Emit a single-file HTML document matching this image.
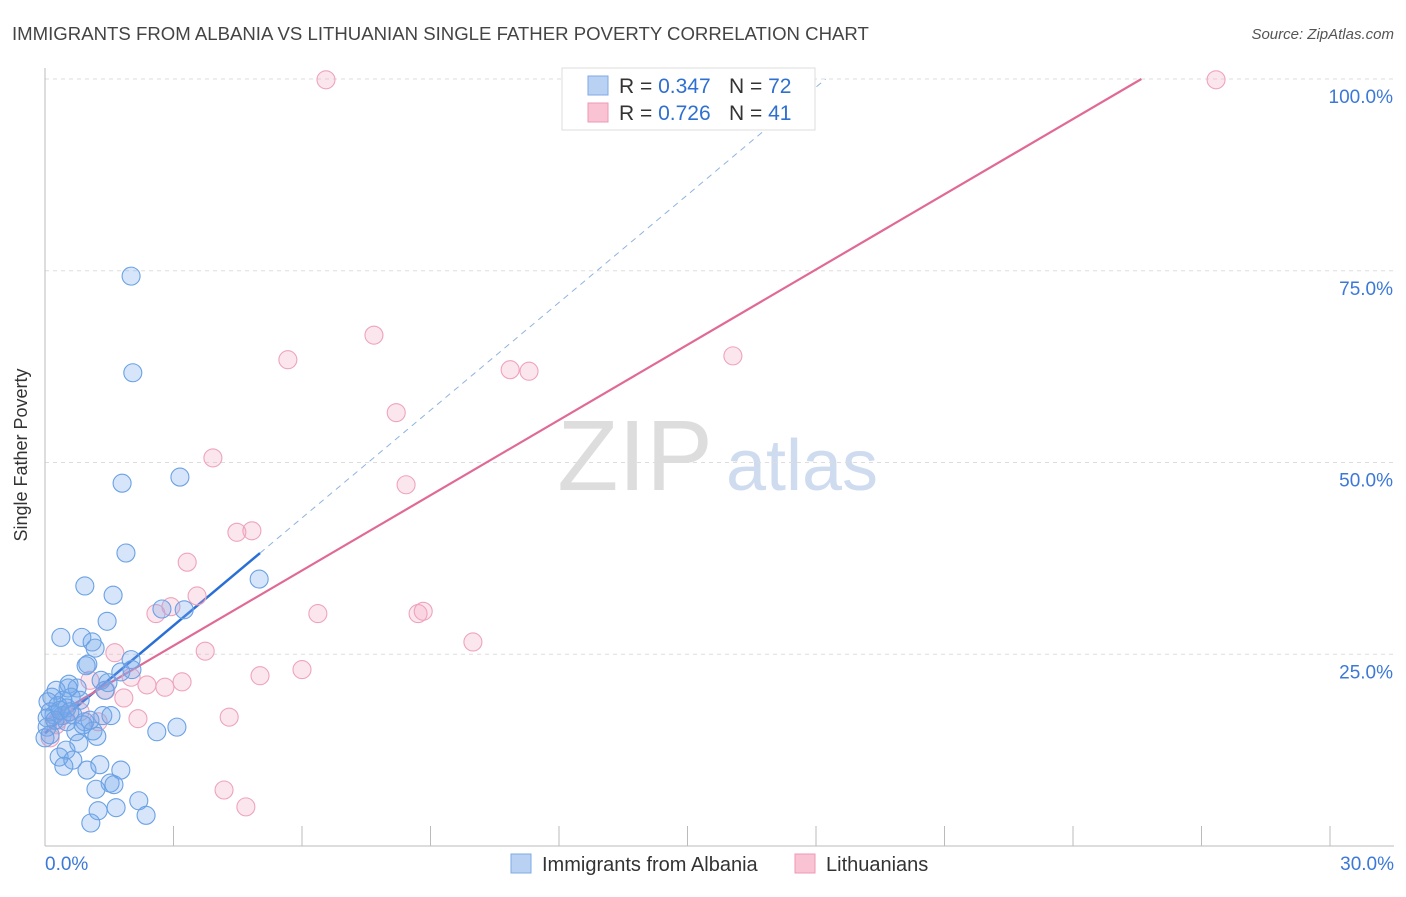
<!DOCTYPE html>
<html><head><meta charset="utf-8"><style>
body{margin:0;background:#fff;font-family:"Liberation Sans",sans-serif;}
svg text{font-family:"Liberation Sans",sans-serif;}
</style></head><body>
<svg id="chart" width="1406" height="892" xmlns="http://www.w3.org/2000/svg">
<text x="12" y="40" font-size="18.6" fill="#444">IMMIGRANTS FROM ALBANIA VS LITHUANIAN SINGLE FATHER POVERTY CORRELATION CHART</text>
<text x="1394" y="39" font-size="15" fill="#555" font-style="italic" text-anchor="end">Source: ZipAtlas.com</text>
<text x="635" y="490" font-size="100" fill="#ddd" font-family="Liberation Serif" text-anchor="middle">ZIP</text>
<text x="802" y="490" font-size="72" fill="#cfdcf0" text-anchor="middle">atlas</text>
<g id="grid"></g>
<g id="axes"></g>
<g id="lines"></g>
<g id="points"></g>
<text x="27" y="455" font-size="18" fill="#333" text-anchor="middle" transform="rotate(-90 27 455)">Single Father Poverty</text>
<g>
<rect x="562" y="68" width="253" height="62" fill="#fff" stroke="#ddd"/>
<rect x="588" y="76" width="20" height="19" fill="#b9d2f3" stroke="#7eaae6"/>
<rect x="588" y="103" width="20" height="19" fill="#f9c3d3" stroke="#ec9ab5"/>
<text x="619" y="93" font-size="21" fill="#333">R = <tspan fill="#2f6fd0">0.347</tspan></text>
<text x="729" y="93" font-size="21" fill="#333">N = <tspan fill="#2f6fd0">72</tspan></text>
<text x="619" y="120" font-size="21" fill="#333">R = <tspan fill="#2f6fd0">0.726</tspan></text>
<text x="729" y="120" font-size="21" fill="#333">N = <tspan fill="#2f6fd0">41</tspan></text>
</g>
<g>
<rect x="511" y="854" width="20" height="19" fill="#b9d2f3" stroke="#7eaae6"/>
<text x="542" y="871" font-size="20" fill="#333">Immigrants from Albania</text>
<rect x="795" y="854" width="20" height="19" fill="#f9c3d3" stroke="#ec9ab5"/>
<text x="826" y="871" font-size="20" fill="#333">Lithuanians</text>
</g>
</svg>
<script>
const xTicks=[0,3,6,9,12,15,18,21,24,27,30];
const yTicks=[25,50,75,100];
const yTickLabels=["25.0%","50.0%","75.0%","100.0%"];
const xEndLabels=["0.0%","30.0%"];
const albaniaX=[2.01,2.05,1.80,3.15,1.89,5.00,0.93,1.59,2.73,3.25,1.45,0.37,0.86,1.10,1.17,2.01,1.00,0.96,1.77,1.31,1.47,0.56,0.26,0.75,0.16,0.61,0.42,0.07,0.30,0.51,0.12,0.21,0.05,0.40,0.65,0.93,1.35,1.54,1.12,1.21,0.72,0.05,0.79,0.49,0.33,0.65,0.44,0.98,1.28,1.77,1.52,1.61,1.19,2.19,1.66,1.24,2.36,1.07,2.61,3.08,0.51,0.23,0.54,1.05,0.12,0.35,0.82,0.58,0.0,1.40,2.03,0.89];
const albaniaY=[74.3,61.7,47.3,48.1,38.2,34.8,33.9,32.7,30.9,30.8,29.3,27.2,27.2,26.6,25.8,24.3,23.7,23.5,22.7,21.6,21.3,21.1,20.3,20.6,19.4,19.4,19.0,18.8,18.3,18.0,17.5,17.1,16.7,17.0,17.1,16.2,17.0,17.0,15.0,14.3,14.9,15.5,13.4,12.5,11.6,11.2,10.4,9.9,10.6,9.9,8.2,8.0,7.4,5.9,5.0,4.6,4.0,3.0,14.9,15.5,16.2,16.4,20.6,16.4,14.5,17.7,19.0,17.5,14.1,20.3,23.0,15.8];
const lithX=[6.56,27.34,7.68,5.67,10.86,11.30,16.06,8.20,3.92,8.43,4.48,4.83,3.32,3.55,6.37,2.59,2.94,8.71,8.83,9.99,3.74,1.63,6.00,5.02,2.01,2.38,3.20,2.80,1.42,1.84,2.17,4.30,1.24,0.82,4.18,4.69,0.30,0.12,0.47,1.05,0.26];
const lithY=[99.9,99.9,66.6,63.4,62.1,61.9,63.9,56.5,50.6,47.1,40.9,41.1,37.0,32.6,30.3,30.3,31.2,30.3,30.6,26.6,25.4,25.2,23.0,22.2,22.0,21.0,21.4,20.7,20.3,19.3,16.6,16.8,16.2,17.5,7.3,5.1,16.4,14.1,17.1,21.6,15.8];
const blueTrend=[14.7,4.68];  // intercept, slope
const pinkTrend=[16.3,3.27];
const NS="http://www.w3.org/2000/svg";
const X0=45,X1=1330,Y0=846,Y100=79;
const sx=v=>X0+(X1-X0)*v/30;
const sy=v=>Y0-(Y0-Y100)*v/100;
function mk(tag,attrs,parent){const e=document.createElementNS(NS,tag);for(const k in attrs)e.setAttribute(k,attrs[k]);document.getElementById(parent).appendChild(e);return e;}
yTicks.forEach((t,i)=>{
  const g=mk('line',{x1:X0,x2:1394,y1:sy(t),y2:sy(t),stroke:'#ddd','stroke-dasharray':'4,4'},'grid');
  
  
  const l=mk('text',{x:1393,y:sy(t)+24,'font-size':19,fill:'#3b78d8','text-anchor':'end'},'axes');
  l.textContent=yTickLabels[i];
  
  
});
const ax=mk('line',{x1:X0,x2:X0,y1:68,y2:Y0,stroke:'#bbb'},'axes');


const bx=mk('line',{x1:X0,x2:1394,y1:Y0,y2:Y0,stroke:'#bbb'},'axes');


xTicks.forEach(t=>{
  const k=mk('line',{x1:sx(t),x2:sx(t),y1:826,y2:Y0,stroke:'#bbb'},'axes');
  
  
});
[[0,'start',45],[30,'end',1394]].forEach((d,i)=>{
  const l=mk('text',{x:d[2],y:870,'font-size':19,fill:'#3b78d8','text-anchor':d[1]},'axes');
  l.textContent=xEndLabels[i];
  
  
});
const bEnd=5.02, bTop=(100-blueTrend[0])/blueTrend[1];
let t1=mk('line',{x1:sx(0),y1:sy(blueTrend[0]),x2:sx(bEnd),y2:sy(blueTrend[0]+blueTrend[1]*bEnd),stroke:'#2a6fd6','stroke-width':2.5},'lines');


let t2=mk('line',{x1:sx(bEnd),y1:sy(blueTrend[0]+blueTrend[1]*bEnd),x2:sx(bTop),y2:sy(100),stroke:'#8fb3e0','stroke-width':1,'stroke-dasharray':'6,5'},'lines');


const pTop=(100-pinkTrend[0])/pinkTrend[1];
let t3=mk('line',{x1:sx(0),y1:sy(pinkTrend[0]),x2:sx(pTop),y2:sy(100),stroke:'#e06a95','stroke-width':2.2},'lines');


lithX.forEach((x,i)=>{
  const c=mk('circle',{cx:sx(x),cy:sy(lithY[i]),r:9,fill:'rgba(244,165,195,0.28)',stroke:'#eea3bd','stroke-width':1.1},'points');
  
  
});
albaniaX.forEach((x,i)=>{
  const c=mk('circle',{cx:sx(x),cy:sy(albaniaY[i]),r:9,fill:'rgba(120,170,235,0.3)',stroke:'#6aa1e4','stroke-width':1.1},'points');
  
  
});
</script>
</body></html>
